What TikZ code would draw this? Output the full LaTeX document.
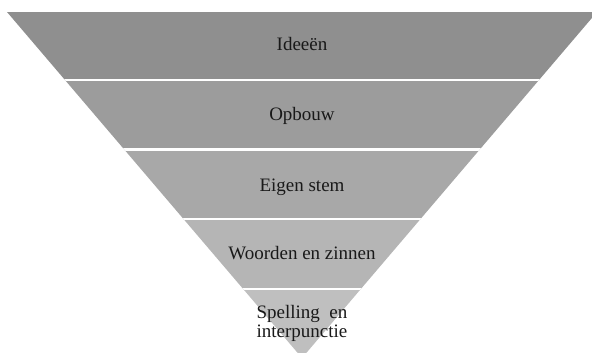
\documentclass[tikz,border=0pt]{standalone}
\usepackage{fontspec}
\setmainfont{Liberation Serif}
\definecolor{bandA}{HTML}{8F8F8F}
\definecolor{bandB}{HTML}{9C9C9C}
\definecolor{bandC}{HTML}{A8A8A8}
\definecolor{bandD}{HTML}{B5B5B5}
\definecolor{bandE}{HTML}{BFBFBF}
\begin{document}
\begin{tikzpicture}[x=1pt,y=-1pt,
  lbl/.style={anchor=base,inner sep=0pt,font=\fontsize{19}{16.5}\selectfont,text=black!90,align=center},
  sep/.style={draw=white,line width=2.5pt}]
\useasboundingbox (0,0) rectangle (592,353);
\begin{scope}
  \clip (7,12) -- (597,12) -- (302,358) -- cycle;
  \fill[bandA] (0,12) rectangle (600,80);
  \fill[bandB] (0,80) rectangle (600,149.5);
  \fill[bandC] (0,149.5) rectangle (600,219);
  \fill[bandD] (0,219) rectangle (600,289);
  \fill[bandE] (0,289) rectangle (600,360);
  \draw[sep] (0,80) -- (600,80);
  \draw[sep] (0,149.5) -- (600,149.5);
  \draw[sep] (0,219) -- (600,219);
  \draw[sep] (0,289) -- (600,289);
\end{scope}
\node[lbl] (l1) at (302,51) {Ideeën};
\node[lbl] (l2) at (302,121) {Opbouw};
\node[lbl] (l3) at (302,191) {Eigen stem};
\node[lbl] (l4) at (302,259) {Woorden en zinnen};
\node[lbl] (l5) at (302,318.5) {Spelling\ \ en};
\node[lbl] (l6) at (302,337.5) {interpunctie};
\end{tikzpicture}
\end{document}
